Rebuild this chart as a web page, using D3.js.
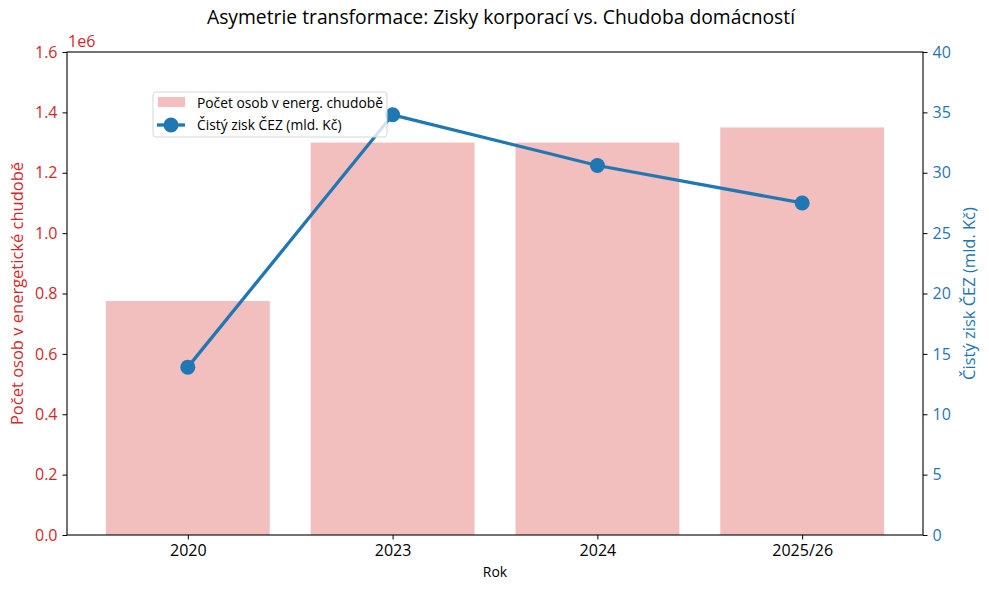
<!DOCTYPE html>
<html><head><meta charset="utf-8">
<script src="https://cdn.jsdelivr.net/npm/d3@7"></script>
<style>body{margin:0;background:#fff;} svg{display:block;font-family:"Open Sans",sans-serif;}</style>
</head><body>
<svg id="c" width="989" height="589"></svg>
<script>
const categories = ["2020", "2023", "2024", "2025/26"];
const povertyCounts = [775000, 1300000, 1300000, 1350000];
const cezProfit = [13.9, 34.8, 30.6, 27.5];
const leftTicks = [0, 0.2, 0.4, 0.6, 0.8, 1.0, 1.2, 1.4, 1.6];
const rightTicks = [0, 5, 10, 15, 20, 25, 30, 35, 40];

const svg = d3.select("#c");
const m = {l:67, r:923, t:52, b:535};
const red = "#d62728", blue = "#1f77b4";
const tickFs = 16;

const xPos = d3.scaleLinear().domain([-0.59, 3.59]).range([m.l, m.r]);
const yL = d3.scaleLinear().domain([0, 1.6e6]).range([m.b, m.t]);
const yR = d3.scaleLinear().domain([0, 40]).range([m.b, m.t]);
const bw = xPos(0.4) - xPos(-0.4);

// bars
svg.append("g").selectAll("rect").data(povertyCounts).join("rect")
  .attr("x", (d,i) => xPos(i) - bw/2).attr("width", bw)
  .attr("y", d => yL(d)).attr("height", d => yL(0) - yL(d))
  .attr("fill", red).attr("fill-opacity", 0.3);

// line
const line = d3.line().x((d,i) => xPos(i)).y(d => yR(d));
svg.append("path").datum(cezProfit).attr("d", line)
  .attr("fill", "none").attr("stroke", blue).attr("stroke-width", 3.3);
svg.append("g").selectAll("circle").data(cezProfit).join("circle")
  .attr("cx", (d,i) => xPos(i)).attr("cy", d => yR(d)).attr("r", 7.5).attr("fill", blue);

// axes
const xAxis = d3.axisBottom(xPos).tickValues(d3.range(categories.length))
  .tickFormat(i => categories[i]).tickSize(4.5).tickPadding(5);
const gx = svg.append("g").attr("transform", `translate(0,${m.b})`).call(xAxis);
gx.selectAll("text").attr("font-size", tickFs).attr("fill", "#000").style("font-family","'Open Sans',sans-serif");

const lAxis = d3.axisLeft(yL).tickValues(leftTicks.map(v => v*1e6))
  .tickFormat(v => (v/1e6).toFixed(1)).tickSize(4.5).tickPadding(5);
const gl = svg.append("g").attr("transform", `translate(${m.l},0)`).call(lAxis);
gl.selectAll("text").attr("font-size", tickFs).attr("fill", red).style("font-family","'Open Sans',sans-serif");

const rAxis = d3.axisRight(yR).tickValues(rightTicks).tickFormat(d3.format("d")).tickSize(4.5).tickPadding(5);
const gr = svg.append("g").attr("transform", `translate(${m.r},0)`).call(rAxis);
gr.selectAll("text").attr("font-size", tickFs).attr("fill", blue).style("font-family","'Open Sans',sans-serif");

[gx, gl, gr].forEach(g => { g.select(".domain").remove(); g.selectAll("line").attr("stroke","#000").attr("stroke-width",1); });

// frame spines
svg.append("rect").attr("x", m.l).attr("y", m.t).attr("width", m.r - m.l).attr("height", m.b - m.t)
  .attr("fill", "none").attr("stroke", "#000").attr("stroke-width", 1.1);

// offset text
svg.append("text").attr("x", m.l + 1).attr("y", m.t - 5).attr("font-size", tickFs).attr("fill", red).text("1e6");

// axis labels
svg.append("text").attr("transform", `translate(23,${(m.t+m.b)/2}) rotate(-90)`)
  .attr("text-anchor","middle").attr("font-size", 16.5).attr("fill", red).text("Počet osob v energetické chudobě");
svg.append("text").attr("transform", `translate(975,${(m.t+m.b)/2}) rotate(-90)`)
  .attr("text-anchor","middle").attr("font-size", 16.5).attr("fill", blue).text("Čistý zisk ČEZ (mld. Kč)");
svg.append("text").attr("x", (m.l+m.r)/2).attr("y", 577).attr("text-anchor","middle")
  .attr("font-size", 14).attr("fill","#000").text("Rok");

// title
svg.append("text").attr("x", (m.l+m.r)/2 + 6).attr("y", 24).attr("text-anchor","middle")
  .attr("font-size", 19.3).attr("fill","#000").text("Asymetrie transformace: Zisky korporací vs. Chudoba domácností");

// legend
const lg = svg.append("g").attr("transform", "translate(153,92)");
lg.append("rect").attr("width", 234).attr("height", 45).attr("rx", 3)
  .attr("fill", "#fff").attr("fill-opacity", 0.8).attr("stroke", "#d6d6d6");
lg.append("rect").attr("x", 5).attr("y", 5).attr("width", 27).attr("height", 10).attr("fill", red).attr("fill-opacity", 0.3);
lg.append("line").attr("x1", 4).attr("x2", 32).attr("y1", 33).attr("y2", 33).attr("stroke", blue).attr("stroke-width", 3.3);
lg.append("circle").attr("cx", 18).attr("cy", 33).attr("r", 7.5).attr("fill", blue);
lg.append("text").attr("x", 44).attr("y", 16).attr("font-size", 13.8).attr("fill","#000").text("Počet osob v energ. chudobě");
lg.append("text").attr("x", 44).attr("y", 38).attr("font-size", 13.8).attr("fill","#000").text("Čistý zisk ČEZ (mld. Kč)");
</script>
</body></html>
